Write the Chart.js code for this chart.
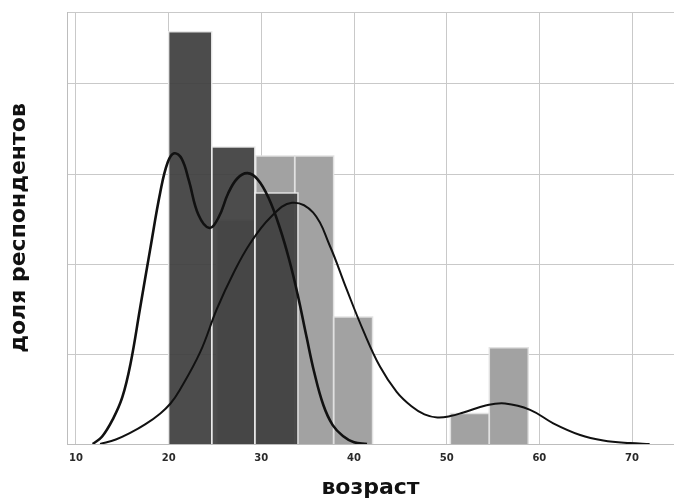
<!DOCTYPE html>
<html>
<head>
<meta charset="utf-8">
<script src="https://cdn.jsdelivr.net/npm/chart.js@4.4.1/dist/chart.umd.min.js"></script>
<style>
  html, body { margin: 0; padding: 0; background: #ffffff; }
  #wrap { width: 674px; height: 499px; position: relative; }
</style>
</head>
<body>
<div id="wrap"><canvas id="chart"></canvas></div>
<script>
// histogram bins (bin edges + heights, in grid units)
const darkEdges = [20, 24.65, 29.3, 33.95];
const darkHeights = [4.58, 3.30, 2.79];
const lightEdges = [25.2, 29.4, 33.6, 37.8, 42.0, 46.2, 50.4, 54.6, 58.8];
const lightHeights = [2.49, 3.2, 3.2, 1.41, 0, 0, 0.34, 1.07];

// density curves
const kdeDarkX = [11.8, 12.8, 14.0, 15.0, 15.9, 16.9, 18.0, 19.1, 19.9, 20.6, 21.4, 22.2, 23.2, 24.4, 25.4, 26.4, 27.4, 28.5, 29.6, 30.8, 32.0, 33.0, 33.9, 34.9, 35.7, 36.7, 37.7, 38.8, 40.0, 41.4];
const kdeDarkY = [0, 0.08, 0.28, 0.52, 0.9, 1.5, 2.16, 2.8, 3.13, 3.23, 3.17, 2.92, 2.55, 2.4, 2.52, 2.78, 2.95, 3.01, 2.94, 2.73, 2.4, 2.05, 1.67, 1.18, 0.8, 0.43, 0.21, 0.09, 0.02, 0];
const kdeLightX = [12.6, 14.3, 15.8, 17.5, 19.1, 20.2, 21.2, 23.4, 25.2, 27.0, 28.8, 31.0, 33.3, 35.6, 37.4, 39.2, 41.0, 42.8, 44.6, 46.2, 47.6, 49.0, 50.4, 51.8, 54.3, 56.3, 59.0, 61.5, 64.4, 66.9, 69.8, 71.9];
const kdeLightY = [0, 0.05, 0.12, 0.22, 0.34, 0.45, 0.6, 1.02, 1.5, 1.9, 2.23, 2.52, 2.68, 2.57, 2.2, 1.72, 1.26, 0.86, 0.58, 0.42, 0.33, 0.295, 0.31, 0.35, 0.43, 0.45, 0.38, 0.23, 0.10, 0.04, 0.01, 0];

const xTicks = [10, 20, 30, 40, 50, 60, 70];
const yGrid = [0, 1, 2, 3, 4, 4.8];

const xTitle = 'возраст';
const yTitle = 'доля респондентов';

function stepPoints(edges, heights) {
    const pts = [];
    heights.forEach((h, i) => {
        pts.push({ x: edges[i], y: 0 });
        pts.push({ x: edges[i], y: h });
        pts.push({ x: edges[i + 1], y: h });
        pts.push({ x: edges[i + 1], y: 0 });
    });
    return pts;
}

function curvePoints(xs, ys) {
    return xs.map((x, i) => ({ x: x, y: ys[i] }));
}

// hide the outline where a bar polygon runs along the baseline
const hideBase = {
    borderColor: ctx => (ctx.p0.parsed.y === 0 && ctx.p1.parsed.y === 0) ? 'rgba(0,0,0,0)' : undefined
};

const ctx = document.getElementById('chart');
new Chart(ctx, {
    type: 'line',
    data: {
        datasets: [
            {
                label: 'kde dark',
                data: curvePoints(kdeDarkX, kdeDarkY),
                borderColor: '#111111',
                borderWidth: 2.6,
                pointRadius: 0,
                tension: 0.4,
                fill: false,
                order: 0
            },
            {
                label: 'kde light',
                data: curvePoints(kdeLightX, kdeLightY),
                borderColor: '#111111',
                borderWidth: 2,
                pointRadius: 0,
                tension: 0.4,
                fill: false,
                order: 1
            },
            {
                label: 'hist dark',
                data: stepPoints(darkEdges, darkHeights),
                backgroundColor: 'rgba(62,62,62,0.93)',
                borderColor: 'rgba(235,235,235,0.9)',
                borderWidth: 1.5,
                pointRadius: 0,
                tension: 0,
                fill: 'origin',
                segment: hideBase,
                order: 2
            },
            {
                label: 'hist light',
                data: stepPoints(lightEdges, lightHeights),
                backgroundColor: '#a2a2a2',
                borderColor: 'rgba(225,225,225,0.95)',
                borderWidth: 1.5,
                pointRadius: 0,
                tension: 0,
                fill: 'origin',
                segment: hideBase,
                order: 3
            }
        ]
    },
    options: {
        responsive: true,
        maintainAspectRatio: false,
        animation: false,
        layout: { padding: { top: 12, right: 0, bottom: 0, left: 0 } },
        plugins: {
            legend: { display: false },
            tooltip: { enabled: false }
        },
        scales: {
            x: {
                type: 'linear',
                min: 9.03,
                max: 74.53,
                afterBuildTicks: axis => { axis.ticks = xTicks.map(v => ({ value: v })); },
                afterFit: axis => { axis.height = 55; },
                grid: { color: '#c9c9c9', lineWidth: 1, drawTicks: false },
                border: { display: true, color: '#bdbdbd' },
                ticks: {
                    color: '#2a2a2a',
                    padding: 8,
                    maxRotation: 0,
                    font: { family: 'DejaVu Sans', size: 10, weight: 'bold' }
                },
                title: {
                    display: true,
                    text: xTitle,
                    color: '#111111',
                    padding: { top: 0, bottom: 0 },
                    font: { family: 'DejaVu Sans', size: 22, weight: 'bold', lineHeight: 1 }
                }
            },
            y: {
                type: 'linear',
                min: 0,
                max: 4.8,
                afterBuildTicks: axis => { axis.ticks = yGrid.map(v => ({ value: v })); },
                afterFit: axis => { axis.width = 67; },
                grid: { color: '#c9c9c9', lineWidth: 1, drawTicks: false },
                border: { display: true, color: '#bdbdbd' },
                ticks: { display: false },
                title: {
                    display: true,
                    text: yTitle,
                    color: '#111111',
                    padding: { top: 8, bottom: 0 },
                    font: { family: 'DejaVu Sans', size: 22, weight: 'bold', lineHeight: 1 }
                }
            }
        }
    }
});
</script>
</body>
</html>
